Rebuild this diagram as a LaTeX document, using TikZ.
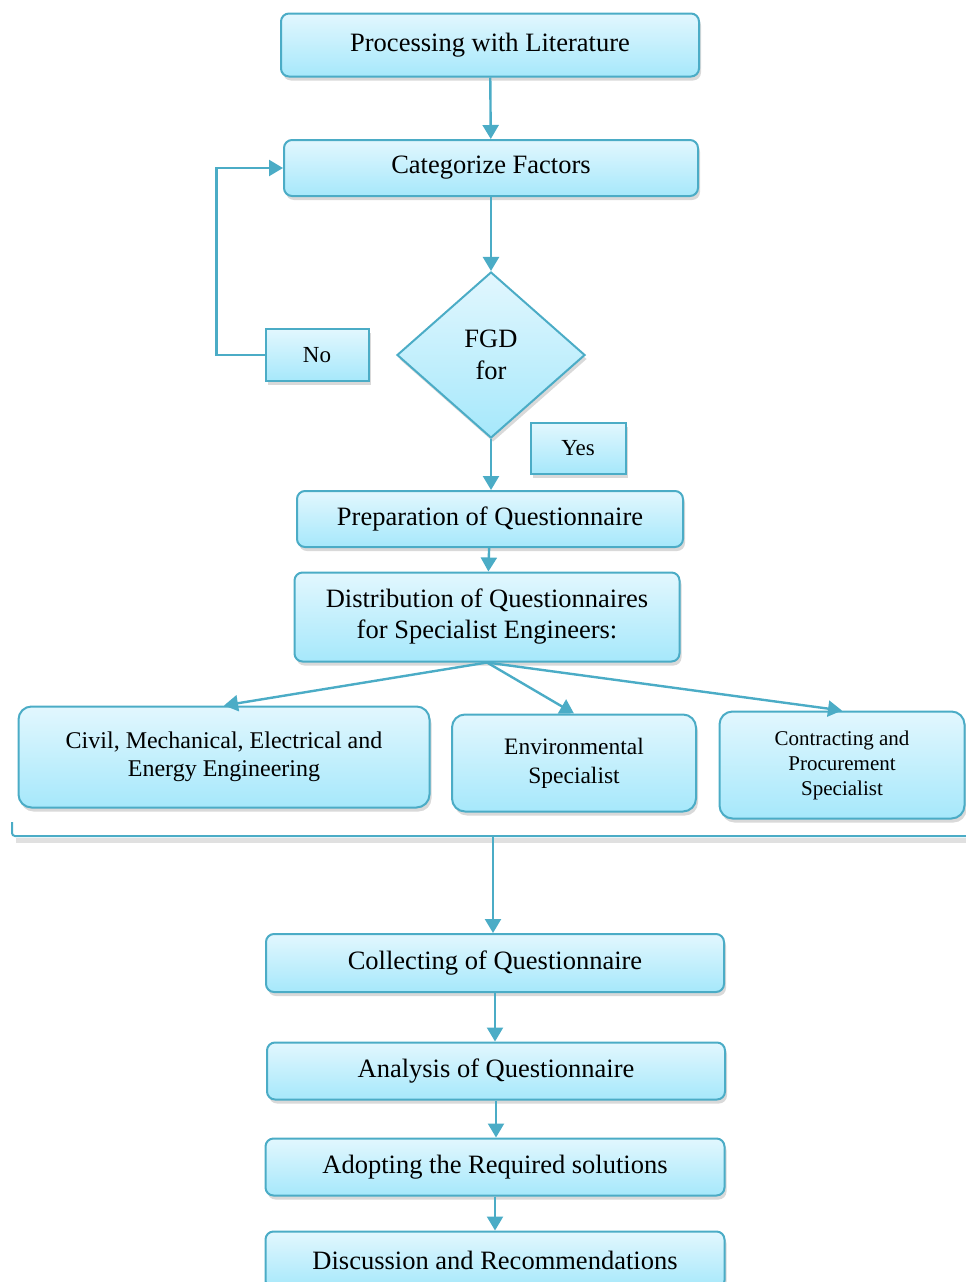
\documentclass[tikz,border=0pt]{standalone}
\usepackage{fontspec}
\setmainfont{Liberation Serif}
\usetikzlibrary{arrows.meta, shapes.geometric, shadows, calc, positioning}
\definecolor{boxline}{RGB}{75,172,198}
\definecolor{boxtop}{RGB}{226,247,254}
\definecolor{boxbottom}{RGB}{166,232,251}
\tikzset{
  boxshade/.style={draw=boxline, line width=2pt, top color=boxtop, bottom color=boxbottom,
    drop shadow={shadow xshift=2pt, shadow yshift=-4pt, opacity=0.3}},
  stepbox/.style={boxshade, rounded corners=8pt, align=center, inner sep=0pt,
    font=\fontsize{26.5}{31}\selectfont},
  groupbox/.style={boxshade, rounded corners=13pt, align=center, inner sep=0pt},
  answerbox/.style={boxshade, align=center, inner sep=0pt, font=\fontsize{23}{27}\selectfont},
  decision/.style={boxshade, diamond, align=center, inner sep=0pt,
    minimum width=188pt, minimum height=166pt, font=\fontsize{26.5}{32}\selectfont},
  flowline/.style={draw=boxline, line width=2.4pt, -{Triangle[width=16pt,length=14pt]}}
}

\begin{document}
\begin{tikzpicture}[x=1pt, y=-1pt]
\useasboundingbox (0,0) rectangle (966,1282);

% upper part
\node[stepbox, minimum width=418pt, minimum height=63pt] (lit) at (490,45) {Processing with Literature};
\node[stepbox, minimum width=414pt, minimum height=56pt] (cat) at (491,168) {Categorize Factors};
\node[decision] (fgd) at (491,355) {FGD\\for};
\node[answerbox, minimum width=103pt, minimum height=52pt] (no) at (317,355) {No};
\node[answerbox, minimum width=95pt, minimum height=51pt] (yes) at (578,448) {Yes};
\node[stepbox, minimum width=386pt, minimum height=56pt] (prep) at (490,519) {Preparation of Questionnaire};
\node[stepbox, minimum width=385pt, minimum height=89pt] (dist) at (487,617) {Distribution of Questionnaires\\for Specialist Engineers:};

% specialist groups
\node[groupbox, minimum width=411pt, minimum height=101pt, font=\fontsize{24}{28}\selectfont] (civil) at (224,757) {Civil, Mechanical, Electrical and\\Energy Engineering};
\node[groupbox, minimum width=244pt, minimum height=97pt, font=\fontsize{23.5}{29}\selectfont] (env) at (574,763) {Environmental\\Specialist};
\node[groupbox, minimum width=245pt, minimum height=107pt, font=\fontsize{21}{25}\selectfont] (contr) at (842,765) {Contracting and\\Procurement\\Specialist};

% bracket
\coordinate (brleft) at (12,822);
\coordinate (brtip) at (493,836);
\draw[black!12, line width=5pt] (16,840) -- (966,840);
\draw[boxline, line width=2pt, rounded corners=3pt] (brleft) |- (966,836);

% lower part
\node[stepbox, minimum width=458pt, minimum height=58pt] (coll) at (495,963) {Collecting of Questionnaire};
\node[stepbox, minimum width=458pt, minimum height=57pt] (anal) at (496,1071) {Analysis of Questionnaire};
\node[stepbox, minimum width=459pt, minimum height=57pt] (adopt) at (495,1167) {Adopting the Required solutions};
\node[stepbox, minimum width=459pt, minimum height=57pt] (disc) at (495,1260) {Discussion and Recommendations};

% connectors
\draw[flowline] (lit) -- (cat);
\draw[flowline] (cat) -- (fgd);
\draw[flowline] (no.west) -- ++(-48,0) |- (cat.west);
\draw[flowline] (fgd.south) -- (prep.north -| fgd.south);
\draw[flowline] (prep) -- (dist);
\draw[flowline] (dist.south) -- (civil.north);
\draw[flowline] (dist.south) -- (env.north);
\draw[flowline] (dist.south) -- (contr.north);
\draw[flowline] (brtip) -- (brtip |- coll.north);
\draw[flowline] (coll) -- (coll |- anal.north);
\draw[flowline] (anal) -- (anal |- adopt.north);
\draw[flowline] (adopt) -- (disc);
\end{tikzpicture}
\end{document}
